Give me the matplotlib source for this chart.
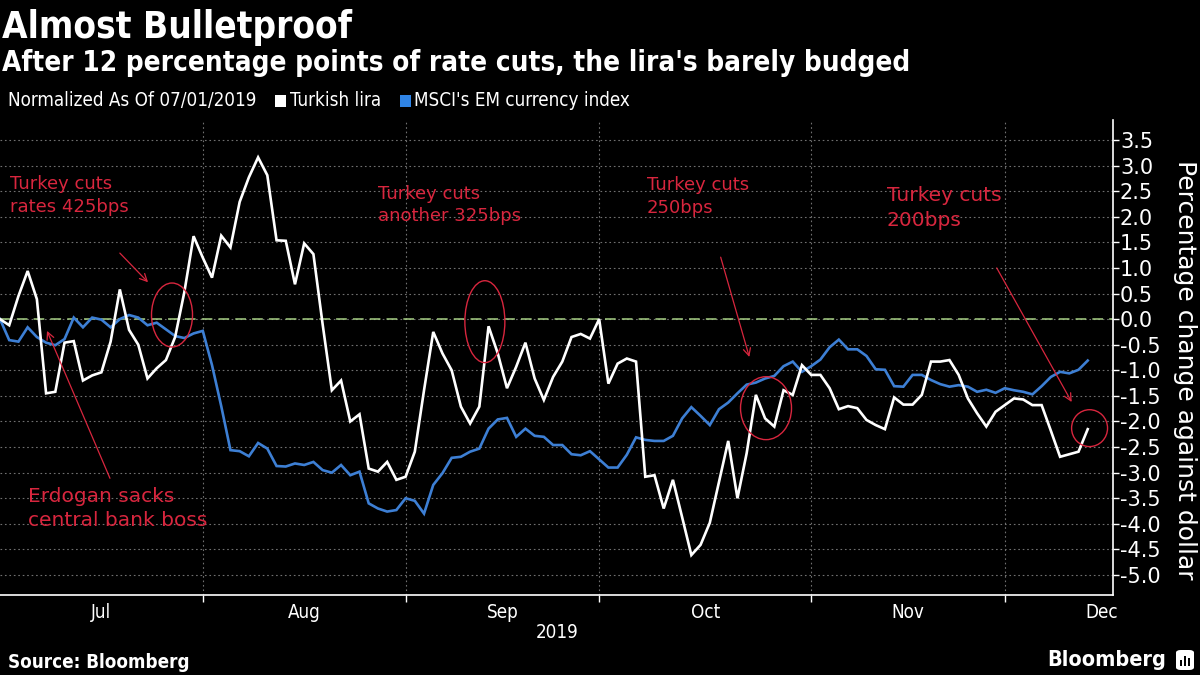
import matplotlib
matplotlib.use("Agg")
import matplotlib.pyplot as plt
from matplotlib.patches import Ellipse, Rectangle, FancyBboxPatch
import numpy as np
import pandas as pd

# ---------------- data ----------------
dates = pd.bdate_range("2019-07-02", "2019-12-13")

turkish_lira = [
    0.0, -0.12, 0.45, 0.94, 0.39, -1.45, -1.42, -0.46, -0.43, -1.2,
    -1.1, -1.04, -0.44, 0.58, -0.21, -0.5, -1.16, -0.96, -0.8, -0.35,
    0.53, 1.62, 1.2, 0.81, 1.63, 1.4, 2.29, 2.77, 3.16, 2.81,
    1.54, 1.53, 0.68, 1.48, 1.27, -0.1, -1.39, -1.2, -2.0, -1.86,
    -2.92, -2.98, -2.79, -3.14, -3.08, -2.59, -1.39, -0.25, -0.67, -1.0,
    -1.71, -2.04, -1.71, -0.14, -0.67, -1.35, -0.93, -0.46, -1.16, -1.58,
    -1.13, -0.83, -0.35, -0.29, -0.38, 0.0, -1.26, -0.87, -0.77, -0.83,
    -3.08, -3.05, -3.7, -3.14, -3.87, -4.61, -4.41, -3.98, -3.18, -2.38,
    -3.5, -2.62, -1.48, -1.94, -2.1, -1.39, -1.48, -0.9, -1.09, -1.09,
    -1.35, -1.76, -1.7, -1.74, -1.97, -2.07, -2.15, -1.53, -1.67, -1.67,
    -1.48, -0.83, -0.83, -0.8, -1.09, -1.55, -1.84, -2.1, -1.81, -1.68,
    -1.55, -1.57, -1.68, -1.68, -2.18, -2.69, -2.64, -2.59, -2.15,
]

msci_em = [
    0.0, -0.41, -0.44, -0.16, -0.35, -0.46, -0.51, -0.39, 0.03, -0.16,
    0.03, -0.01, -0.16, 0.0, 0.08, 0.03, -0.12, -0.07, -0.2, -0.33,
    -0.37, -0.28, -0.23, -0.9, -1.7, -2.56, -2.58, -2.68, -2.42, -2.53,
    -2.87, -2.88, -2.82, -2.85, -2.79, -2.95, -3.0, -2.85, -3.05, -2.98,
    -3.6, -3.7, -3.76, -3.73, -3.5, -3.55, -3.8, -3.24, -3.01, -2.71,
    -2.69, -2.59, -2.53, -2.14, -1.96, -1.93, -2.3, -2.14, -2.28, -2.3,
    -2.46, -2.46, -2.64, -2.66, -2.58, -2.74, -2.9, -2.9, -2.65, -2.31,
    -2.36, -2.38, -2.38, -2.28, -1.94, -1.72, -1.89, -2.07, -1.76, -1.63,
    -1.45, -1.28, -1.24, -1.16, -1.11, -0.92, -0.83, -1.03, -0.92, -0.79,
    -0.55, -0.4, -0.59, -0.59, -0.72, -0.98, -0.99, -1.31, -1.32, -1.09,
    -1.09, -1.19, -1.27, -1.32, -1.29, -1.32, -1.42, -1.38, -1.44, -1.35,
    -1.39, -1.42, -1.47, -1.31, -1.13, -1.03, -1.06, -0.99, -0.81,
]

month_labels = ["Jul", "Aug", "Sep", "Oct", "Nov", "Dec"]
year_label = "2019"
y_ticks = [-5.0, -4.5, -4.0, -3.5, -3.0, -2.5, -2.0, -1.5, -1.0, -0.5,
           0.0, 0.5, 1.0, 1.5, 2.0, 2.5, 3.0, 3.5]

assert len(dates) == len(turkish_lira) == len(msci_em)

# ---------------- styling ----------------
plt.rcParams["font.family"] = ["DejaVu Sans"]
plt.rcParams["axes.unicode_minus"] = False

BG = "black"
WHITE = "white"
BLUE = "#3d7fd4"
LEGEND_BLUE = "#2f84e6"
RED = "#d8263e"
ZERO = "#a6cf84"
GRID = "#707070"

W, H = 1200, 675
fig = plt.figure(figsize=(12, 6.75), dpi=100, facecolor=BG)


def fx(px):
    return px / W


def fy(py):
    return 1 - py / H


ax = fig.add_axes([0, fy(595), fx(1113), (595 - 120) / H])
ax.set_facecolor(BG)

x = np.arange(len(dates))

# month boundaries (first business day of each month) on the trading-day axis
month_start = [0] + [i for i in range(1, len(dates)) if dates[i].month != dates[i - 1].month]
boundaries = month_start[1:]
# Dec spans to the end of the month (22 business days)
next_start = month_start[1:] + [month_start[-1] + 21]
label_pos = [(a + b) / 2 for a, b in zip(month_start, next_start)]

ax.set_xlim(0, 1113 / 9.218)
ax.set_ylim(-5.39, 3.89)

# grid
ax.set_yticks(y_ticks)
ax.set_yticklabels([f"{v:.1f}" for v in y_ticks])
ax.set_xticks(boundaries)
ax.set_xticklabels([""] * len(boundaries))
ax.set_xticks(label_pos, minor=True)
ax.set_xticklabels(month_labels, minor=True)
ax.grid(axis="y", which="major", color=GRID, linestyle=(0, (1.5, 2.5)), lw=0.8, zorder=1)
ax.grid(axis="x", which="major", color=GRID, linestyle=(0, (1.5, 2.5)), lw=0.8, zorder=1)

ax.axhline(0, color=ZERO, lw=1.1, dashes=(7, 4), zorder=2)

ax.plot(x, msci_em, color=BLUE, lw=1.9, zorder=3, solid_joinstyle="miter")
ax.plot(x, turkish_lira, color=WHITE, lw=1.9, zorder=4, solid_joinstyle="miter")

# spines / ticks
for s in ["left", "top"]:
    ax.spines[s].set_visible(False)
for s in ["right", "bottom"]:
    ax.spines[s].set_color(WHITE)
    ax.spines[s].set_linewidth(1.2)

ax.yaxis.tick_right()
ax.tick_params(axis="y", which="major", colors=WHITE, labelcolor=WHITE, length=4,
               width=1, pad=1, labelsize=15)
ax.tick_params(axis="x", which="major", colors=WHITE, length=5, width=1)
ax.tick_params(axis="x", which="minor", length=0, pad=6, labelcolor=WHITE, labelsize=13.5)
for lab in ax.get_xticklabels(minor=True):
    lab.set_fontstretch("condensed")

# ---------------- annotations ----------------
def note(xd, yd, s, size):
    ax.text(xd, yd, s, color=RED, fontsize=size, ha="left", va="center",
            linespacing=1.35, zorder=5)


def arrow(x0, y0, x1, y1):
    ax.annotate("", xy=(x1, y1), xytext=(x0, y0),
                arrowprops=dict(arrowstyle="->", color=RED, lw=0.9,
                                mutation_scale=13, shrinkA=0, shrinkB=0),
                zorder=5)


def ring(xc, yc, w, h):
    ax.add_patch(Ellipse((xc, yc), w, h, fill=False, edgecolor=RED, lw=1.0, zorder=5))


note(1.08, 2.41, "Turkey cuts\nrates 425bps", 13)
note(41.0, 2.23, "Turkey cuts\nanother 325bps", 13)
note(70.2, 2.39, "Turkey cuts\n250bps", 13)
note(96.2, 2.17, "Turkey cuts\n200bps", 14.5)
note(3.0, -3.70, "Erdogan sacks\ncentral bank boss", 14.5)

arrow(13.0, 1.29, 16.06, 0.72)
arrow(11.93, -3.11, 5.10, -0.23)
arrow(78.18, 1.21, 81.29, -0.74)
arrow(108.13, 1.00, 116.26, -1.62)

ring(18.66, 0.08, 4.45, 1.25)
ring(52.6, -0.05, 4.34, 1.60)
ring(83.1, -1.74, 5.53, 1.23)
ring(118.2, -2.13, 3.9, 0.72)

# ---------------- texts around the chart ----------------
fig.text(fx(557), fy(633), year_label, color=WHITE, fontsize=13.5, ha="center",
         va="center", fontstretch="condensed")
fig.text(fx(1185), fy(370), "Percentage change against dollar", color=WHITE,
         fontsize=18, rotation=270, ha="center", va="center")

fig.text(fx(2), fy(38), "Almost Bulletproof", color=WHITE, fontsize=26.5,
         fontweight="bold", fontstretch="condensed", ha="left", va="baseline")
fig.text(fx(2), fy(71), "After 12 percentage points of rate cuts, the lira's barely budged",
         color=WHITE, fontsize=20, fontweight="bold", fontstretch="condensed",
         ha="left", va="baseline")

# legend row
fig.text(fx(8), fy(101), "Normalized As Of 07/01/2019", color=WHITE, fontsize=13.5,
         fontstretch="condensed", ha="left", va="center")
fig.patches.append(Rectangle((fx(275), fy(107)), 11 / W, 12 / H, transform=fig.transFigure,
                             facecolor=WHITE, edgecolor="none"))
fig.text(fx(290), fy(101), "Turkish lira", color=WHITE, fontsize=13.5,
         fontstretch="condensed", ha="left", va="center")
fig.patches.append(Rectangle((fx(400), fy(107)), 11 / W, 12 / H, transform=fig.transFigure,
                             facecolor=LEGEND_BLUE, edgecolor="none"))
fig.text(fx(414), fy(101), "MSCI's EM currency index", color=WHITE, fontsize=13.5,
         fontstretch="condensed", ha="left", va="center")

# footer
fig.text(fx(8), fy(662), "Source: Bloomberg", color=WHITE, fontsize=13.5,
         fontweight="bold", fontstretch="condensed", ha="left", va="center")
fig.text(fx(1166), fy(660), "Bloomberg", color=WHITE, fontsize=15.5,
         fontweight="bold", fontstretch="condensed", ha="right", va="center")
fig.patches.append(FancyBboxPatch((fx(1176), fy(670)), 18 / W, 20 / H,
                                  boxstyle="round,pad=0,rounding_size=0.004",
                                  transform=fig.transFigure, facecolor=WHITE,
                                  edgecolor="none"))
for bx, bh in [(1180, 6), (1184, 10), (1188, 8)]:
    fig.patches.append(Rectangle((fx(bx), fy(666)), 2.2 / W, bh / H,
                                 transform=fig.transFigure, facecolor=BG,
                                 edgecolor="none"))

fig.savefig("out.png", dpi=100, facecolor=BG)
